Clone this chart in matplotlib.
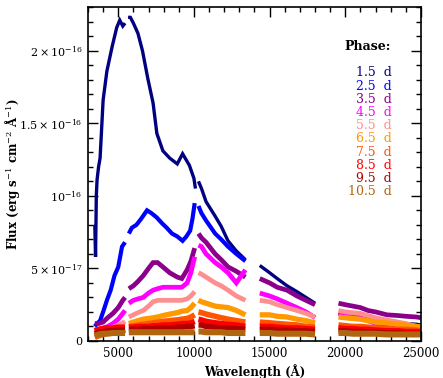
import numpy as np
import matplotlib
matplotlib.use("Agg")
import matplotlib.pyplot as plt
from matplotlib.ticker import MultipleLocator, FixedLocator, FixedFormatter

plt.rcParams["font.family"] = "DejaVu Serif"
plt.rcParams["mathtext.fontset"] = "dejavuserif"

# wavelength grids (Angstrom) for the spectral segments
WL_OPT = [3450, 3700, 4000, 4300, 4650, 5000, 5300, 5450,
          5700, 6000, 6300, 6650, 7000, 7300, 7600, 7950, 8400, 8900,
          9200, 9550, 9800, 10050]
WL_NAVY_OPT = [3450, 3500, 3550, 3600, 3700, 3800, 4000, 4250, 4600, 4900,
               5100, 5300, 5450, 5650, 5800, 6000, 6300, 6600, 6950, 7300,
               7550, 7950, 8400, 8900, 9250, 9700, 10000, 10100]
WL_BLUE_OPT = [3450, 3600, 3800, 4000, 4250, 4500, 4750, 5000, 5250, 5450,
               5700, 5900, 6200, 6500, 6900, 7200, 7550, 7900, 8200, 8550,
               8900, 9250, 9500, 9750, 9900, 10050]
WL_NIR1 = [10300, 10500, 10800, 11400, 11800, 12250, 12800, 13400]
WL_NIR2 = [14350, 15000, 15500, 16150, 16800, 17400, 18000]
WL_K = [19550, 20000, 20500, 21000, 21500, 22000, 22750, 23500, 24000, 24700, 25000]
OPT_GAP = (5450, 5700)   # no data between these in the optical

# flux in units of 1e-17 erg/s/cm2/A, per phase: [optical, nir1, nir2, k]
flux_1_5 = [[8.0, 5.8, 10.0, 11.1, 12.0, 12.6, 16.6, 18.6, 20.3, 21.6, 22.1,
             21.7, 21.9, 22.3, 22.3, 21.9, 21.2, 20.0, 18.1, 16.4, 14.3, 13.1,
             12.6, 12.2, 12.9, 12.1, 11.2, 10.5],
            [11.0, 10.5, 9.6, 8.6, 7.9, 6.9, 6.2, 5.6],
            [5.2, 4.7, 4.3, 3.8, 3.4, 3.0, 2.6],
            [1.9, 1.8, 1.7, 1.6, 1.5, 1.35, 1.3, 1.25, 1.2, 1.15, 1.1]]
flux_2_5 = [[1.0, 1.2, 1.4, 2.0, 2.8, 3.5, 4.5, 5.1, 6.5, 6.8, 7.4, 7.8, 8.0,
             8.4, 9.0, 8.8, 8.5, 8.1, 7.8, 7.4, 7.2, 6.9, 7.2, 7.6, 8.4, 9.5],
            [9.3, 8.8, 8.3, 7.4, 7.0, 6.5, 6.0, 5.5], None, None]
flux_3_5 = [[1.2, 1.2, 1.3, 1.6, 1.9, 2.3, 2.8, 3.0, 3.6, 3.8, 4.1, 4.5, 5.0,
             5.4, 5.4, 5.1, 4.7, 4.4, 4.3, 4.9, 5.5, 6.4],
            [7.4, 7.1, 6.8, 6.0, 5.6, 5.1, 4.8, 4.4],
            [4.3, 4.0, 3.7, 3.5, 3.1, 2.8, 2.5],
            [2.6, 2.5, 2.4, 2.3, 2.1, 2.0, 1.8, 1.75, 1.7, 1.65, 1.6]]
flux_4_5 = [[0.75, 0.8, 0.9, 1.0, 1.2, 1.5, 1.9, 2.1, 2.6, 2.8, 2.9, 3.0, 3.3,
             3.5, 3.6, 3.7, 3.7, 3.7, 3.7, 4.0, 4.7, 5.8],
            [6.6, 6.5, 6.0, 5.4, 5.1, 4.7, 4.0, 4.9],
            [3.3, 3.1, 2.9, 2.6, 2.3, 2.0, 1.6],
            [1.9, 1.8, 1.7, 1.6, 1.4, 1.2, 0.96, 0.8, 0.7, 0.62, 0.6]]
flux_5_5 = [[0.55, 0.6, 0.7, 0.8, 0.95, 1.1, 1.24, 1.35, 1.65, 1.8, 1.95, 2.1,
             2.4, 2.7, 2.8, 2.8, 2.8, 2.8, 2.8, 2.9, 3.1, 3.4],
            [4.7, 4.6, 4.4, 4.0, 3.8, 3.5, 3.1, 2.8],
            [2.8, 2.7, 2.5, 2.3, 2.1, 1.9, 1.65],
            [2.1, 2.0, 1.95, 1.9, 1.75, 1.6, 1.44, 1.3, 1.2, 1.0, 0.96]]
flux_6_5 = [[0.3, 0.4, 0.5, 0.55, 0.6, 0.7, 0.75, 0.8, 1.2, 1.3, 1.4, 1.5,
             1.55, 1.6, 1.65, 1.75, 1.85, 1.95, 2.05, 2.1, 2.3, 2.6],
            [2.8, 2.7, 2.6, 2.4, 2.35, 2.3, 2.1, 1.8],
            [1.8, 1.8, 1.7, 1.65, 1.5, 1.4, 1.24],
            [1.65, 1.6, 1.55, 1.5, 1.4, 1.3, 1.24, 1.15, 1.1, 1.0, 0.96]]
flux_7_5 = [[0.25, 0.35, 0.45, 0.55, 0.6, 0.65, 0.7, 0.75, 1.0, 1.05, 1.1,
             1.15, 1.2, 1.25, 1.3, 1.35, 1.4, 1.45, 1.5, 1.55, 1.65, 1.8],
            [2.0, 1.95, 1.85, 1.7, 1.6, 1.5, 1.4, 1.3],
            [1.3, 1.25, 1.2, 1.15, 1.1, 1.0, 0.95],
            [1.1, 1.05, 1.0, 1.0, 0.95, 0.9, 0.85, 0.8, 0.8, 0.75, 0.7]]
flux_8_5 = [[0.7, 0.8, 0.85, 0.9, 0.9, 0.95, 0.95, 0.95, 0.95, 0.95, 1.0,
             1.0, 1.0, 1.05, 1.05, 1.1, 1.1, 1.15, 1.2, 1.2, 1.25, 1.35],
            [1.5, 1.45, 1.35, 1.25, 1.2, 1.15, 1.1, 1.0],
            [1.0, 1.0, 0.95, 0.9, 0.9, 0.85, 0.8],
            [0.9, 0.85, 0.85, 0.8, 0.8, 0.75, 0.7, 0.7, 0.65, 0.65, 0.6]]
flux_9_5 = [[0.5, 0.6, 0.65, 0.7, 0.7, 0.75, 0.75, 0.75, 0.8, 0.8, 0.8, 0.85,
             0.85, 0.85, 0.9, 0.9, 0.9, 0.95, 0.95, 1.0, 1.0, 1.05],
            [1.1, 1.1, 1.0, 0.95, 0.9, 0.9, 0.85, 0.8],
            [0.8, 0.8, 0.75, 0.75, 0.7, 0.7, 0.65],
            [0.7, 0.7, 0.65, 0.65, 0.6, 0.6, 0.55, 0.55, 0.5, 0.5, 0.5]]
flux_10_5 = [[0.35, 0.45, 0.5, 0.5, 0.55, 0.55, 0.55, 0.55, 0.6, 0.6, 0.6,
              0.6, 0.6, 0.6, 0.6, 0.6, 0.6, 0.6, 0.6, 0.6, 0.6, 0.6],
             [0.65, 0.65, 0.6, 0.6, 0.6, 0.55, 0.55, 0.55],
             [0.55, 0.55, 0.5, 0.5, 0.5, 0.5, 0.45],
             [0.55, 0.55, 0.5, 0.5, 0.5, 0.5, 0.45, 0.45, 0.45, 0.45, 0.45]]

PHASES = ["1.5", "2.5", "3.5", "4.5", "5.5", "6.5", "7.5", "8.5", "9.5", "10.5"]
FLUXES = [flux_1_5, flux_2_5, flux_3_5, flux_4_5, flux_5_5,
          flux_6_5, flux_7_5, flux_8_5, flux_9_5, flux_10_5]
COLORS = ["#000080", "#0000ff", "#8b008b", "#ff00ff", "#ff8f8f",
          "#ff9900", "#ff5500", "#ff0000", "#b00000", "#b0650f"]
WIDTHS = [2.4, 3.0, 3.4, 3.4, 3.4, 3.8, 4.0, 4.0, 4.0, 4.4]


def _segment(wl, fx):
    """Insert a NaN where the optical spectrum has its gap."""
    wl = np.asarray(wl, float)
    fx = np.asarray(fx, float)
    cut = np.searchsorted(wl, OPT_GAP[0], side="right")
    return (np.concatenate([wl[:cut], [np.nan], wl[cut:]]),
            np.concatenate([fx[:cut], [np.nan], fx[cut:]]))


def _assemble(i, segs):
    opt_wl = WL_NAVY_OPT if i == 0 else WL_BLUE_OPT if i == 1 else WL_OPT
    parts = [_segment(opt_wl, segs[0])]
    for wl, fx in zip([WL_NIR1, WL_NIR2, WL_K], segs[1:]):
        if fx is not None:
            parts.append((np.asarray(wl, float), np.asarray(fx, float)))
    xs, ys = [], []
    for w, f in parts:
        xs += [w, [np.nan]]
        ys += [f, [np.nan]]
    return np.concatenate(xs), np.concatenate(ys) * 1e-17


fig = plt.figure(figsize=(4.43, 3.78), dpi=100)
ax = fig.add_axes([0.1986, 0.098, 0.7517, 0.883])

for i, segs in enumerate(FLUXES):
    x, y = _assemble(i, segs)
    ax.plot(x, y, color=COLORS[i], lw=WIDTHS[i], solid_capstyle="butt",
            solid_joinstyle="miter")

ax.set_xlim(3000, 25000)
ax.set_ylim(0, 2.3e-16)
ax.xaxis.set_major_locator(MultipleLocator(5000))
ax.xaxis.set_minor_locator(MultipleLocator(1000))
ax.yaxis.set_major_locator(FixedLocator([0, 5e-17, 1e-16, 1.5e-16, 2e-16]))
ax.yaxis.set_major_formatter(FixedFormatter(
    ["0", r"$5\times10^{-17}$", r"$10^{-16}$",
     r"$1.5\times10^{-16}$", r"$2\times10^{-16}$"]))
ax.yaxis.set_minor_locator(MultipleLocator(1e-17))
ax.tick_params(which="both", direction="in", top=True, right=True, width=1.0)
ax.tick_params(axis="x", labelsize=8.5, pad=4)
ax.tick_params(axis="y", labelsize=8, pad=4)
ax.tick_params(which="major", length=7)
ax.tick_params(which="minor", length=3.5)
for sp in ax.spines.values():
    sp.set_linewidth(1.2)

ax.set_xlabel("Wavelength (Å)", fontsize=8.5, fontweight="bold", labelpad=3)
ax.set_ylabel(r"Flux (erg s$^{-1}$ cm$^{-2}$ Å$^{-1}$)", fontsize=8.5,
              fontweight="bold")
ax.yaxis.set_label_coords(-0.198, 0.5)

fig.text(368 / 443, 1 - 46 / 378, "Phase:", ha="center", va="center",
         fontsize=9, fontweight="bold")
for i, ph in enumerate(PHASES):
    fig.text(392 / 443, 1 - (73 + 13.2 * i) / 378, f"{ph}  d", ha="right",
             va="center", fontsize=9, color=COLORS[i])

fig.savefig("out.png", dpi=100)
